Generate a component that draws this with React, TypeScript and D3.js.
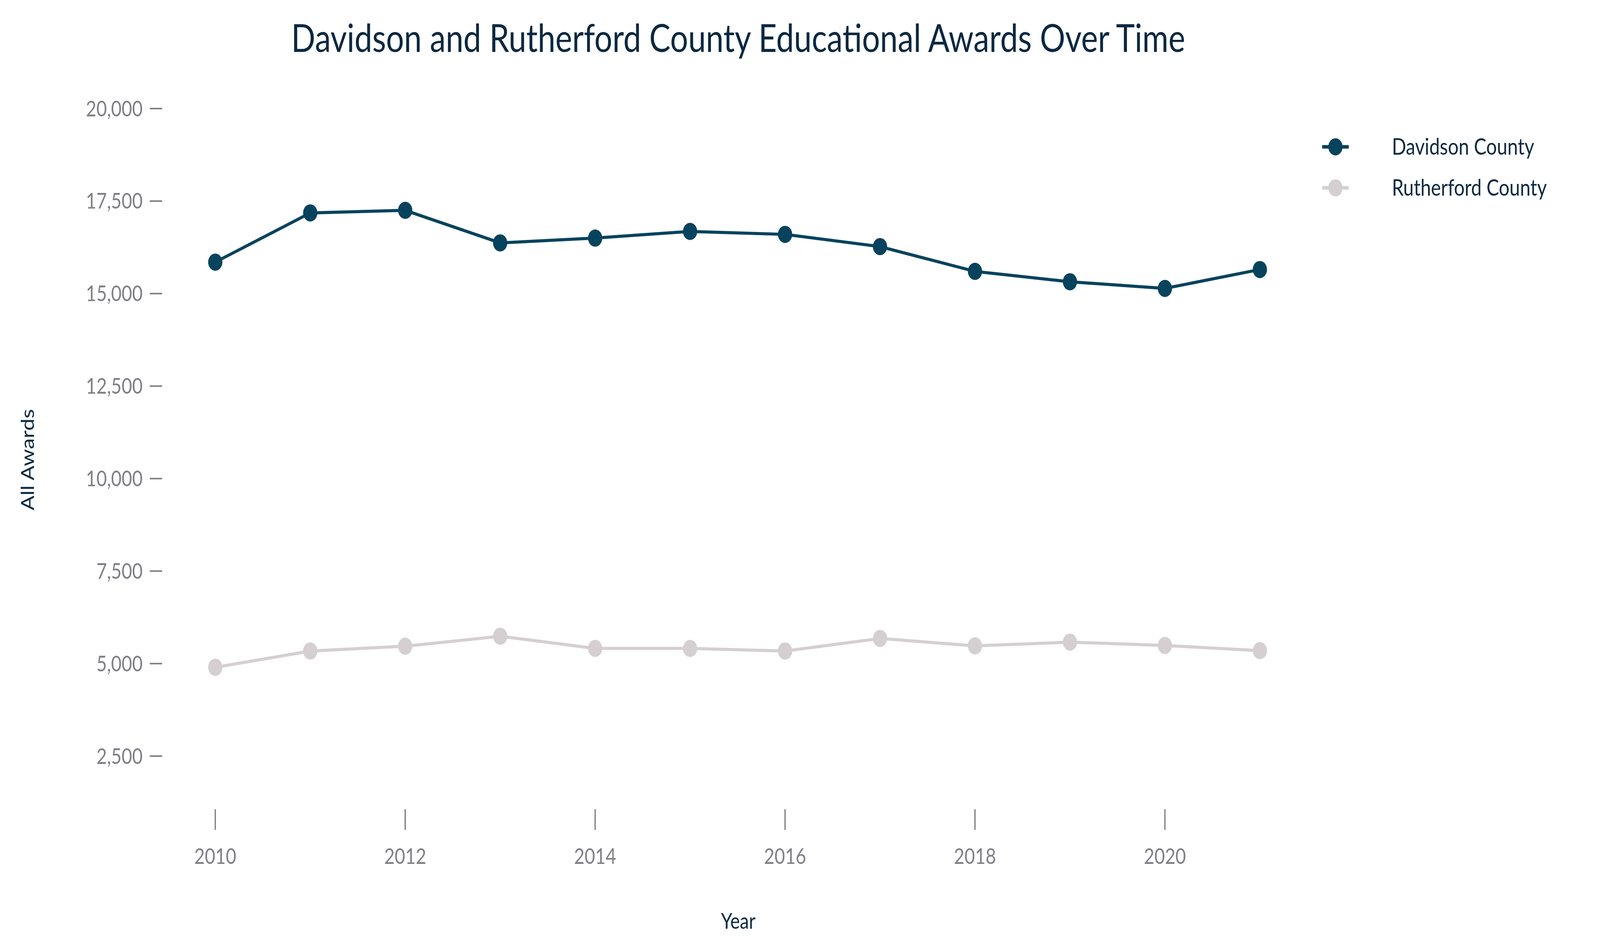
import * as d3 from "d3";

const years = [2010, 2011, 2012, 2013, 2014, 2015, 2016, 2017, 2018, 2019, 2020, 2021];
const davidson = [15850, 17180, 17250, 16370, 16500, 16680, 16600, 16270, 15600, 15320, 15140, 15650];
const rutherford = [4900, 5340, 5470, 5740, 5410, 5410, 5340, 5680, 5480, 5580, 5490, 5350];
const yTicks = [2500, 5000, 7500, 10000, 12500, 15000, 17500, 20000];
const xTicks = [2010, 2012, 2014, 2016, 2018, 2020];

const series = [
  { name: "Davidson County", values: davidson, color: "#08435E" },
  { name: "Rutherford County", values: rutherford, color: "#D5CFD1" },
];

const W = 4935;
const H = 2435;
const font = "Lato, 'Open Sans', sans-serif";
const gray = "#7F7F87";

export default function App() {
  const x = d3.scaleLinear().domain([2010, 2020]).range([664, 3593]);
  const y = d3.scaleLinear().domain([2500, 20000]).range([1936, 278]);
  const line = d3
    .line<number>()
    .x((_, i) => x(years[i]))
    .y((d) => y(d));
  const fmt = d3.format(",");

  return (
    <svg
      viewBox={`0 0 ${W} ${H}`}
      preserveAspectRatio="none"
      style={{ position: "fixed", left: 0, top: 0, width: "100vw", height: "100vh", background: "#fff" }}
    >
      <text x={2277} y={133} textAnchor="middle" fontFamily={font} fontSize={98} fill="#0B2840">
        Davidson and Rutherford County Educational Awards Over Time
      </text>

      {yTicks.map((t) => (
        <g key={t}>
          <line x1={462} x2={500} y1={y(t)} y2={y(t)} stroke={gray} strokeWidth={4} />
          <text x={440} y={y(t)} dy="0.35em" textAnchor="end" fontFamily={font} fontSize={56} fill={gray}>
            {fmt(t)}
          </text>
        </g>
      ))}

      {xTicks.map((t) => (
        <g key={t}>
          <line x1={x(t)} x2={x(t)} y1={2072} y2={2125} stroke={gray} strokeWidth={4} />
          <text x={x(t)} y={2212} textAnchor="middle" fontFamily={font} fontSize={56} fill={gray}>
            {t}
          </text>
        </g>
      ))}

      <text x={2277} y={2378} textAnchor="middle" fontFamily={font} fontSize={56} fill="#0B2840">
        Year
      </text>
      <text
        transform={`translate(85,1177) rotate(-90)`}
        dy="0.35em"
        textAnchor="middle"
        fontFamily={font}
        fontSize={56}
        fill="#0B2840"
      >
        All Awards
      </text>

      {series.map((s) => (
        <g key={s.name}>
          <path d={line(s.values) ?? ""} fill="none" stroke={s.color} strokeWidth={8} />
          {s.values.map((v, i) => (
            <circle key={i} cx={x(years[i])} cy={y(v)} r={22} fill={s.color} />
          ))}
        </g>
      ))}

      {series.map((s, i) => {
        const ly = 376 + i * 105;
        return (
          <g key={s.name}>
            <line x1={4078} x2={4160} y1={ly} y2={ly} stroke={s.color} strokeWidth={9} />
            <circle cx={4119} cy={ly} r={22} fill={s.color} />
            <text x={4293} y={ly} dy="0.35em" fontFamily={font} fontSize={58} fill="#0B2840">
              {s.name}
            </text>
          </g>
        );
      })}
    </svg>
  );
}
